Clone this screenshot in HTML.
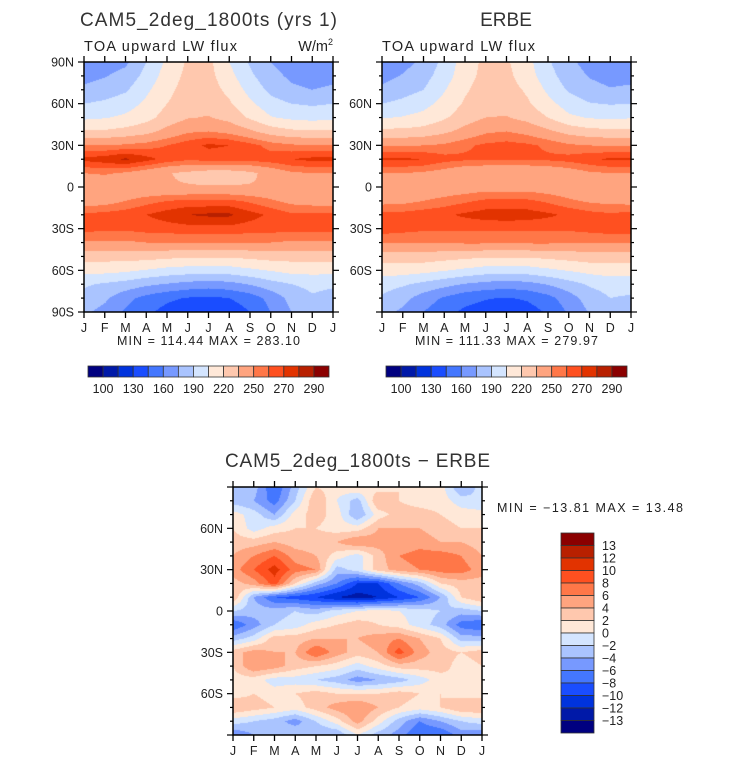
<!DOCTYPE html>
<html><head><meta charset="utf-8">
<style>
html,body{margin:0;padding:0;background:#fff;width:733px;height:765px;overflow:hidden;}
#wrap{position:relative;width:733px;height:765px;font-family:"Liberation Sans",sans-serif;}
canvas{position:absolute;}
svg{position:absolute;left:0;top:0;}
</style></head>
<body>
<div id="wrap">
<canvas id="c1" style="left:84px;top:62px" width="249" height="250"></canvas>
<canvas id="c2" style="left:382px;top:62px" width="249" height="250"></canvas>
<canvas id="c3" style="left:233px;top:487px" width="249" height="248"></canvas>
<svg id="ov" width="733" height="765" font-family="Liberation Sans, sans-serif" fill="#222">
<text x="80" y="26" font-size="19" fill="#333" textLength="257" lengthAdjust="spacing">CAM5_2deg_1800ts (yrs 1)</text>
<text x="84" y="51" font-size="14.5" fill="#222" textLength="153" lengthAdjust="spacing">TOA upward LW flux</text>
<text x="333" y="51" font-size="14.5" text-anchor="end">W/m<tspan dy="-6" font-size="9">2</tspan></text>
<text x="506" y="26" font-size="19" fill="#333" text-anchor="middle">ERBE</text>
<text x="382" y="51" font-size="14.5" textLength="153" lengthAdjust="spacing">TOA upward LW flux</text>
<text x="117" y="345" font-size="12.5" textLength="183" lengthAdjust="spacing">MIN = 114.44 MAX = 283.10</text>
<text x="415" y="345" font-size="12.5" textLength="183" lengthAdjust="spacing">MIN = 111.33 MAX = 279.97</text>
<text x="225" y="467" font-size="19" fill="#333" textLength="265" lengthAdjust="spacing">CAM5_2deg_1800ts − ERBE</text>
<text x="497" y="512" font-size="12.5" textLength="186" lengthAdjust="spacing">MIN = −13.81 MAX =  13.48</text>
</svg>
</div>
<script>
// ---- data ----
const months = ["J","F","M","A","M","J","J","A","S","O","N","D","J"];
const lats = [90,80,70,60,50,40,30,20,10,0,-10,-20,-30,-40,-50,-60,-70,-80,-90];
const levelsFlux = [100,115,130,145,160,175,190,205,220,235,250,260,270,280,290];
const fluxTicks = ["100","130","160","190","220","250","270","290"];
const levelsDiff = [-13,-12,-10,-8,-6,-4,-2,0,2,4,6,8,10,12,13];
const diffTicks = ["13","12","10","8","6","4","2","0","−2","−4","−6","−8","−10","−12","−13"];
const palette = ["#000080","#0019a8","#0033dd","#1a4dff","#4477ff","#7799ff","#aac4ff","#d4e5ff","#ffe8d8","#ffc8ae","#ffa47f","#ff7748","#ff5020","#e23300","#b82000","#8b0000"];
const cam5 = [
[165,168,172,190,208,222,224,205,188,175,168,164,165],
[170,174,180,195,212,224,225,210,193,180,172,168,170],
[178,182,188,202,216,226,227,216,200,186,178,175,178],
[190,193,198,208,220,228,229,222,208,196,190,188,190],
[202,204,208,215,226,234,236,230,218,206,202,200,202],
[222,222,225,230,240,248,250,246,238,228,223,222,222],
[250,250,252,255,260,266,272,270,264,256,252,250,250],
[273,276,282,274,266,262,264,264,264,266,270,273,273],
[250,252,248,242,236,232,228,228,232,240,248,250,250],
[238,236,236,236,236,236,236,236,236,236,240,238,238],
[242,244,250,256,260,262,262,262,258,252,246,244,242],
[262,264,266,270,275,280,282,282,274,268,262,262,262],
[264,262,262,264,265,266,266,266,265,264,264,264,264],
[248,248,248,250,250,250,250,250,250,250,248,248,248],
[226,226,226,226,224,222,222,222,224,226,226,226,226],
[210,210,208,204,200,198,197,198,202,206,210,210,210],
[192,188,184,178,174,170,168,170,176,184,190,194,192],
[185,178,165,155,148,144,142,145,152,165,180,188,185],
[178,170,158,148,140,136,133,136,145,160,175,180,178]];
const erbe = [
[162,170,178,195,212,224,222,210,192,178,170,165,162],
[170,176,184,198,214,225,224,212,196,182,174,170,170],
[178,184,190,204,218,227,226,218,202,188,180,176,178],
[190,194,200,210,222,229,228,222,210,198,191,189,190],
[204,206,210,218,228,235,236,230,220,208,204,202,204],
[224,224,226,232,240,248,250,246,238,230,225,224,224],
[248,248,250,252,258,262,264,262,258,252,250,248,248],
[272,272,270,264,262,262,262,262,262,264,268,272,272],
[250,250,248,244,238,235,235,235,238,242,248,250,250],
[238,236,238,240,242,244,244,244,242,240,238,236,238],
[245,246,250,254,258,262,262,262,258,252,248,246,245],
[264,264,266,268,272,275,276,275,272,268,264,262,264],
[266,264,262,262,262,262,262,262,262,262,264,266,266],
[250,250,250,250,252,252,252,252,252,250,250,250,250],
[228,228,228,226,224,222,222,222,224,226,228,228,228],
[212,212,210,206,202,198,197,198,202,206,210,212,212],
[196,192,186,180,174,170,168,170,176,184,192,196,196],
[188,180,168,158,150,146,144,147,155,168,182,190,188],
[180,172,160,150,142,138,135,138,147,162,176,182,180]];
const diff = [
[-4,-3,-8,-3,2,1,2,1,2,2,1,-4,-1],
[-3,-4,-7,-2,4,0,-3,4,2,1,1,-1,-2],
[1,-1,-4,1,3,1,-4,1,3,3,2,1,1],
[2,-1,1,2,2,1,1,4,4,4,3,2,2],
[3,3,4,3,3,4,6,5,4,5,4,4,3],
[4,6,8,5,4,1,-1,3,6,7,7,6,4],
[5,8,11,7,6,-3,-1,3,5,6,7,7,5],
[3,5,9,2,-3,-6,-10,-10,-6,-3,2,3,3],
[4,-4,-8,-9,-10,-12,-13,-12,-10,-8,-4,2,4],
[-2,-3,-3,-2,-3,-1,0,1,0,-1,-2,-3,-2],
[-8,-5,-2,-1,1,2,3,2,1,-1,-3,-7,-8],
[-3,-1,3,3,4,4,4,5,6,4,2,-3,-3],
[3,5,4,4,8,5,3,4,9,5,3,2,3],
[2,6,5,3,2,1,-1,1,3,3,3,1,2],
[1,1,-1,-1,-2,-3,-5,-4,-3,-1,1,2,1],
[1,2,1,2,3,2,2,2,3,2,2,1,1],
[4,3,2,1,3,5,6,4,2,1,2,4,4],
[-1,-2,-3,-5,-2,1,5,1,-3,-6,-4,-2,-1],
[-6,-4,-3,-2,-4,-4,0,-3,-5,-8,-8,-5,-6]];

function levelIndex(v, lv){let i=0;while(i<lv.length&&v>=lv[i])i++;return i;}
function sample(g, fx, fy){
  const nc=g[0].length-1, nr=g.length-1;
  const x=Math.min(fx*nc,nc-1e-6), y=Math.min(fy*nr,nr-1e-6);
  const i=Math.floor(y), j=Math.floor(x), dy=y-i, dx=x-j;
  return g[i][j]*(1-dx)*(1-dy)+g[i][j+1]*dx*(1-dy)+g[i+1][j]*(1-dx)*dy+g[i+1][j+1]*dx*dy;
}
function drawField(id, g, lv){
  const c=document.getElementById(id), ctx=c.getContext('2d');
  const w=c.width,h=c.height;
  for(let py=0;py<h;py++){for(let px=0;px<w;px++){
    const v=sample(g,(px+0.5)/w,(py+0.5)/h);
    ctx.fillStyle=palette[levelIndex(v,lv)];
    ctx.fillRect(px,py,1,1);
  }}
}
drawField('c1',cam5,levelsFlux);
drawField('c2',erbe,levelsFlux);
drawField('c3',diff,levelsDiff);

const NS='http://www.w3.org/2000/svg';
const ov=document.getElementById('ov');
function mk(tag,attrs,txt){const e=document.createElementNS(NS,tag);for(const k in attrs)e.setAttribute(k,attrs[k]);if(txt!==undefined)e.textContent=txt;ov.appendChild(e);return e;}
function latLabel(l){return l===0?"0":(Math.abs(l)+(l>0?"N":"S"));}
function axes(x0,y0,w,h,opt){
  const xs=m=>x0+m/12*w, ys=l=>y0+(90-l)/180*h;
  let r=mk('rect',{x:x0,y:y0,width:w,height:h,fill:'none',stroke:'#000','stroke-width':1.5});
  
  
  for(let m=0;m<months.length;m++){
    const x=xs(m);
    mk('line',{x1:x,x2:x,y1:y0-6,y2:y0,stroke:'#000','stroke-width':1.3});
    mk('line',{x1:x,x2:x,y1:y0+h,y2:y0+h+6,stroke:'#000','stroke-width':1.3});
    const t=mk('text',{x:x,y:y0+h+20,'font-size':12.5,'text-anchor':'middle'},months[m]);
    
    
  }
  for(let l=90;l>=-90;l-=10){
    const y=ys(l), major=(l%30===0);
    const len=major?6:3;
    mk('line',{x1:x0-len,x2:x0,y1:y,y2:y,stroke:'#000','stroke-width':1.2});
    mk('line',{x1:x0+w,x2:x0+w+len,y1:y,y2:y,stroke:'#000','stroke-width':1.2});
    if(major && opt.left && (opt.poles || Math.abs(l)!==90)){
      const t=mk('text',{x:x0-10,y:y+4.5,'font-size':12.5,'text-anchor':'end'},latLabel(l));
      
      
    }
  }
}
axes(84,62,249,250,{name:'cam5',left:true,poles:true});
axes(382,62,249,250,{name:'erbe',left:true,poles:false});
axes(233,487,249,248,{name:'diff',left:true,poles:false});

function hbar(x0,y0,w,h){
  const bw=w/palette.length;
  palette.forEach((c,i)=>{
    const r=mk('rect',{x:x0+i*bw,y:y0,width:bw,height:h,fill:c,stroke:'#333','stroke-width':0.8});
    
    
  });
  fluxTicks.forEach((t,k)=>{
    const e=mk('text',{x:x0+(1+2*k)*bw,y:y0+h+16,'font-size':12.5,'text-anchor':'middle'},t);
    
    
  });
}
hbar(88,366,241,11);
hbar(386,366,241,11);

function vbar(x0,y0,w,h){
  const n=palette.length, bh=h/n;
  for(let i=0;i<n;i++){
    const r=mk('rect',{x:x0,y:y0+i*bh,width:w,height:bh,fill:palette[n-1-i],stroke:'#333','stroke-width':0.8});
    
    
  }
  diffTicks.forEach((t,k)=>{
    const e=mk('text',{x:x0+w+8,y:y0+(k+1)*bh+4.5,'font-size':12.5},t);
    
    
  });
}
vbar(561,533,33,200);
</script>
</body></html>
